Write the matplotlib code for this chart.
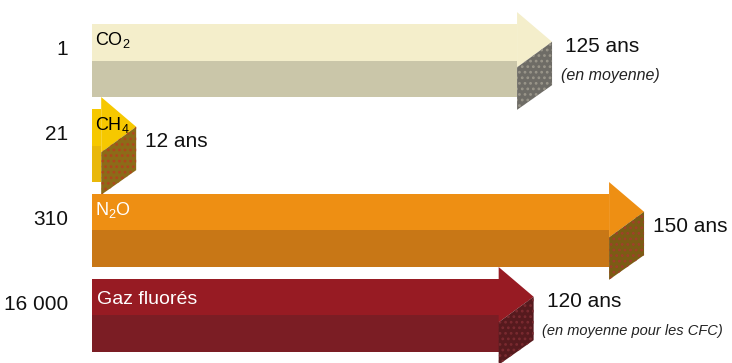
import matplotlib
matplotlib.use("Agg")
import matplotlib.pyplot as plt
from matplotlib.patches import Polygon

# pouvoir de réchauffement global et durée de vie dans l'atmosphère
gaz = ["CO$_2$", "CH$_4$", "N$_2$O", "Gaz fluorés"]
prg = ["1", "21", "310", "16 000"]
duree_ans = [125, 12, 150, 120]
notes = ["(en moyenne)", "", "", "(en moyenne pour les CFC)"]

# styles
COL_TOP = ["#F4EECB", "#F6C800", "#EE8F13", "#971B23"]
COL_BOTTOM = ["#CAC6A9", "#E9B80A", "#C87716", "#7B1D24"]
COL_SIDE = ["#6E6C66", "#8C6B18", "#7B5C14", "#561A1E"]
COL_DOTS = ["#9A968A", "#B0461E", "#A0402A", "#7A2A30"]
COL_NAME = ["black", "black", "white", "white"]
NOTE_SIZE = [11.5, 0, 0, 10.5]

HEAD = 9.5      # longueur de la pointe (en années)
HALF = 0.43     # demi-hauteur du corps
SANS = ["Liberation Sans", "DejaVu Sans"]

plt.rcParams["mathtext.fontset"] = "custom"
plt.rcParams["mathtext.rm"] = "Liberation Sans"
plt.rcParams["mathtext.default"] = "rm"
plt.rcParams["hatch.linewidth"] = 1.2

fig = plt.figure(figsize=(7.32, 3.63), dpi=100)
ax = fig.add_axes([0, 0, 1, 1])
ax.set_xlim(-25.0, 173.9)
ax.set_ylim(3.559, -0.712)
ax.axis("off")

for i, (name, p, d, note) in enumerate(zip(gaz, prg, duree_ans, notes)):
    xb = d - HEAD
    # corps : face du dessus (claire) et face avant (foncée)
    ax.add_patch(Polygon([(0, i - HALF), (xb, i - HALF), (xb, i), (0, i)],
                         closed=True, facecolor=COL_TOP[i], edgecolor="none"))
    ax.add_patch(Polygon([(0, i), (xb, i), (xb, i + HALF), (0, i + HALF)],
                         closed=True, facecolor=COL_BOTTOM[i], edgecolor="none"))
    # pointe
    ax.add_patch(Polygon([(xb, i - 0.57), (d, i - 0.22), (xb, i + 0.08)],
                         closed=True, facecolor=COL_TOP[i], edgecolor="none"))
    ax.add_patch(Polygon([(xb, i + 0.08), (d, i - 0.22), (d, i + 0.29), (xb, i + 0.58)],
                         closed=True, facecolor=COL_SIDE[i], edgecolor=COL_DOTS[i],
                         linewidth=0, hatch="..."))

    ax.text(-6.5, i - 0.13, p, ha="right", va="center", fontsize=15,
            family=SANS, color="#111111")

    if name == "Gaz fluorés":
        ax.text(1.4, i - 0.19, name, ha="left", va="center", fontsize=14,
                family=SANS, color=COL_NAME[i])
    else:
        ax.text(0.8, i - 0.24, name, ha="left", va="center", fontsize=13,
                family=SANS, color=COL_NAME[i])

    if note:
        ax.text(d + 3.6, i - 0.17, f"{d} ans", ha="left", va="center",
                fontsize=15, family=SANS, color="#111111")
        ax.text(d + 2.4, i + 0.18, note, ha="left", va="center",
                fontsize=NOTE_SIZE[i], family=SANS, style="italic", color="#222222")
    else:
        ax.text(d + 2.4, i - 0.05, f"{d} ans", ha="left", va="center",
                fontsize=15, family=SANS, color="#111111")

fig.savefig("out.png", dpi=100)
